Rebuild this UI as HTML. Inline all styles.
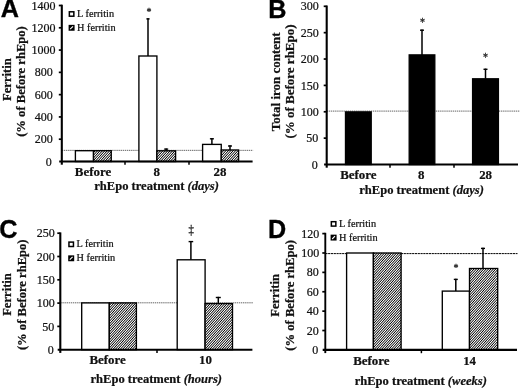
<!DOCTYPE html>
<html><head><meta charset="utf-8"><title>Figure</title>
<style>html,body{margin:0;padding:0;background:#fff;overflow:hidden}svg{display:block;will-change:transform}</style></head>
<body><svg width="520" height="388" viewBox="0 0 520 388">
<defs><linearGradient id="hatch" gradientUnits="userSpaceOnUse" x1="0" y1="0" x2="1.3241" y2="1.2046" spreadMethod="repeat"><stop offset="0" stop-color="#000"/><stop offset="0.45" stop-color="#fff"/><stop offset="0.55" stop-color="#fff"/><stop offset="1" stop-color="#000"/></linearGradient></defs>
<rect width="520" height="388" fill="#fff"/>
<g id="panelA">
<line x1="61.8" y1="150.35" x2="253.1" y2="150.35" stroke="#333" stroke-width="0.75" stroke-dasharray="1.4 0.7"/>
<rect x="75.4" y="150.70" width="18.10" height="10.80" fill="#fff" stroke="#000" stroke-width="1.35"/>
<rect x="93.5" y="150.70" width="17.75" height="10.80" fill="url(#hatch)" stroke="#000" stroke-width="1.35"/>
<rect x="138.9" y="56.00" width="18.00" height="105.50" fill="#fff" stroke="#000" stroke-width="1.35"/>
<line x1="148.0" y1="56.00" x2="148.0" y2="18.20" stroke="#000" stroke-width="1.5"/>
<line x1="146.4" y1="18.90" x2="149.6" y2="18.90" stroke="#000" stroke-width="1.4"/>
<rect x="156.9" y="150.80" width="18.70" height="10.70" fill="url(#hatch)" stroke="#000" stroke-width="1.35"/>
<line x1="166.2" y1="150.80" x2="166.2" y2="148.40" stroke="#000" stroke-width="1.5"/>
<line x1="164.2" y1="149.10" x2="168.2" y2="149.10" stroke="#000" stroke-width="1.4"/>
<rect x="202.6" y="144.40" width="18.65" height="17.10" fill="#fff" stroke="#000" stroke-width="1.35"/>
<line x1="211.9" y1="144.40" x2="211.9" y2="138.10" stroke="#000" stroke-width="1.5"/>
<line x1="209.9" y1="138.80" x2="213.9" y2="138.80" stroke="#000" stroke-width="1.4"/>
<rect x="221.25" y="150.00" width="17.35" height="11.50" fill="url(#hatch)" stroke="#000" stroke-width="1.35"/>
<line x1="230" y1="150.00" x2="230" y2="145.30" stroke="#000" stroke-width="1.5"/>
<line x1="228.0" y1="146.00" x2="232.0" y2="146.00" stroke="#000" stroke-width="1.4"/>
<line x1="61.8" y1="4.70" x2="61.8" y2="164.70" stroke="#000" stroke-width="2.1"/>
<line x1="59.20" y1="161.5" x2="252.6" y2="161.5" stroke="#000" stroke-width="2.1"/>
<text x="51.70" y="165.60" text-anchor="end" font-family='"Liberation Serif", serif' font-size="12" fill="#111" stroke="#111" stroke-width="0.22">0</text>
<line x1="58.8" y1="139.21" x2="61.8" y2="139.21" stroke="#000" stroke-width="1.7"/>
<text x="52.70" y="143.31" text-anchor="end" font-family='"Liberation Serif", serif' font-size="12" fill="#111" stroke="#111" stroke-width="0.22">200</text>
<line x1="58.8" y1="116.93" x2="61.8" y2="116.93" stroke="#000" stroke-width="1.7"/>
<text x="52.70" y="121.03" text-anchor="end" font-family='"Liberation Serif", serif' font-size="12" fill="#111" stroke="#111" stroke-width="0.22">400</text>
<line x1="58.8" y1="94.64" x2="61.8" y2="94.64" stroke="#000" stroke-width="1.7"/>
<text x="52.70" y="98.74" text-anchor="end" font-family='"Liberation Serif", serif' font-size="12" fill="#111" stroke="#111" stroke-width="0.22">600</text>
<line x1="58.8" y1="72.36" x2="61.8" y2="72.36" stroke="#000" stroke-width="1.7"/>
<text x="52.70" y="76.46" text-anchor="end" font-family='"Liberation Serif", serif' font-size="12" fill="#111" stroke="#111" stroke-width="0.22">800</text>
<line x1="58.8" y1="50.07" x2="61.8" y2="50.07" stroke="#000" stroke-width="1.7"/>
<text x="55.60" y="54.17" text-anchor="end" font-family='"Liberation Serif", serif' font-size="12" fill="#111" stroke="#111" stroke-width="0.22">1000</text>
<line x1="58.8" y1="27.79" x2="61.8" y2="27.79" stroke="#000" stroke-width="1.7"/>
<text x="55.60" y="31.89" text-anchor="end" font-family='"Liberation Serif", serif' font-size="12" fill="#111" stroke="#111" stroke-width="0.22">1200</text>
<line x1="58.8" y1="5.50" x2="61.8" y2="5.50" stroke="#000" stroke-width="1.7"/>
<text x="55.60" y="9.60" text-anchor="end" font-family='"Liberation Serif", serif' font-size="12" fill="#111" stroke="#111" stroke-width="0.22">1400</text>
<line x1="125" y1="161.5" x2="125" y2="164.80" stroke="#000" stroke-width="1.5"/>
<line x1="189" y1="161.5" x2="189" y2="164.80" stroke="#000" stroke-width="1.5"/>
<text x="93" y="175.7" text-anchor="middle" font-family='"Liberation Serif", serif' font-weight="bold" font-size="12.9" fill="#111" stroke="#111" stroke-width="0.22">Before</text>
<text x="156.75" y="175.7" text-anchor="middle" font-family='"Liberation Serif", serif' font-weight="bold" font-size="12.9" fill="#111" stroke="#111" stroke-width="0.22">8</text>
<text x="220" y="175.7" text-anchor="middle" font-family='"Liberation Serif", serif' font-weight="bold" font-size="12.9" fill="#111" stroke="#111" stroke-width="0.22">28</text>
<text x="94.3" y="190.3" font-family='"Liberation Serif", serif' font-weight="bold" font-size="12.55" fill="#111" stroke="#111" stroke-width="0.22">rhEpo treatment <tspan font-style="italic">(days)</tspan></text>
<text transform="translate(10.9,79.6) rotate(-90)" text-anchor="middle" font-family='"Liberation Serif", serif' font-weight="bold" font-size="12.6" fill="#111" stroke="#111" stroke-width="0.22">Ferritin</text>
<text transform="translate(25.1,81.5) rotate(-90)" text-anchor="middle" font-family='"Liberation Serif", serif' font-weight="bold" font-size="12.6" fill="#111" stroke="#111" stroke-width="0.22">(% of Before rhEpo)</text>
<text x="0.8" y="17.4" font-family='"Liberation Sans", sans-serif' font-weight="bold" font-size="25.2" fill="#000" stroke="#000" stroke-width="0.35">A</text>
<rect x="69.35" y="11.80" width="4.5" height="4.4" fill="#fff" stroke="#000" stroke-width="1.5"/>
<text x="77.00" y="17" font-family='"Liberation Serif", serif' font-size="10.3" fill="#111" stroke="#111" stroke-width="0.22">L ferritin</text>
<rect x="69.35" y="25.60" width="4.5" height="4.4" fill="#000" stroke="#000" stroke-width="1.5"/>
<line x1="70.20" y1="29.20" x2="73.00" y2="26.40" stroke="#fff" stroke-width="1.1"/>
<text x="77.00" y="30.8" font-family='"Liberation Serif", serif' font-size="10.3" fill="#111" stroke="#111" stroke-width="0.22">H ferritin</text>
<text transform="translate(148.9,15.0) scale(1,1)" text-anchor="middle" font-family='"Liberation Serif", serif' font-size="10" fill="#222" stroke="#222" stroke-width="0.3">*</text>
</g>
<g id="panelB">
<line x1="326.7" y1="111.10" x2="520" y2="111.10" stroke="#333" stroke-width="0.75" stroke-dasharray="1.4 0.7"/>
<rect x="345.5" y="111.90" width="25.70" height="52.60" fill="#000" stroke="#000" stroke-width="1.35"/>
<rect x="409.2" y="54.90" width="25.60" height="109.60" fill="#000" stroke="#000" stroke-width="1.35"/>
<line x1="422.0" y1="54.90" x2="422.0" y2="29.50" stroke="#000" stroke-width="1.5"/>
<line x1="420.0" y1="30.20" x2="424.0" y2="30.20" stroke="#000" stroke-width="1.4"/>
<rect x="472.6" y="78.80" width="25.80" height="85.70" fill="#000" stroke="#000" stroke-width="1.35"/>
<line x1="485.5" y1="78.80" x2="485.5" y2="68.60" stroke="#000" stroke-width="1.5"/>
<line x1="483.5" y1="69.30" x2="487.5" y2="69.30" stroke="#000" stroke-width="1.4"/>
<line x1="326.7" y1="5.50" x2="326.7" y2="167.70" stroke="#000" stroke-width="2.1"/>
<line x1="324.10" y1="164.5" x2="518" y2="164.5" stroke="#000" stroke-width="2.1"/>
<text x="317.70" y="168.60" text-anchor="end" font-family='"Liberation Serif", serif' font-size="12" fill="#111" stroke="#111" stroke-width="0.22">0</text>
<line x1="323.7" y1="138.13" x2="326.7" y2="138.13" stroke="#000" stroke-width="1.7"/>
<text x="318.20" y="142.23" text-anchor="end" font-family='"Liberation Serif", serif' font-size="12" fill="#111" stroke="#111" stroke-width="0.22">50</text>
<line x1="323.7" y1="111.77" x2="326.7" y2="111.77" stroke="#000" stroke-width="1.7"/>
<text x="318.70" y="115.87" text-anchor="end" font-family='"Liberation Serif", serif' font-size="12" fill="#111" stroke="#111" stroke-width="0.22">100</text>
<line x1="323.7" y1="85.40" x2="326.7" y2="85.40" stroke="#000" stroke-width="1.7"/>
<text x="318.70" y="89.50" text-anchor="end" font-family='"Liberation Serif", serif' font-size="12" fill="#111" stroke="#111" stroke-width="0.22">150</text>
<line x1="323.7" y1="59.03" x2="326.7" y2="59.03" stroke="#000" stroke-width="1.7"/>
<text x="318.70" y="63.13" text-anchor="end" font-family='"Liberation Serif", serif' font-size="12" fill="#111" stroke="#111" stroke-width="0.22">200</text>
<line x1="323.7" y1="32.67" x2="326.7" y2="32.67" stroke="#000" stroke-width="1.7"/>
<text x="318.70" y="36.77" text-anchor="end" font-family='"Liberation Serif", serif' font-size="12" fill="#111" stroke="#111" stroke-width="0.22">250</text>
<line x1="323.7" y1="6.30" x2="326.7" y2="6.30" stroke="#000" stroke-width="1.7"/>
<text x="318.70" y="10.40" text-anchor="end" font-family='"Liberation Serif", serif' font-size="12" fill="#111" stroke="#111" stroke-width="0.22">300</text>
<line x1="390" y1="164.5" x2="390" y2="167.80" stroke="#000" stroke-width="1.5"/>
<line x1="454" y1="164.5" x2="454" y2="167.80" stroke="#000" stroke-width="1.5"/>
<text x="358.3" y="178.9" text-anchor="middle" font-family='"Liberation Serif", serif' font-weight="bold" font-size="12.9" fill="#111" stroke="#111" stroke-width="0.22">Before</text>
<text x="421.3" y="178.9" text-anchor="middle" font-family='"Liberation Serif", serif' font-weight="bold" font-size="12.9" fill="#111" stroke="#111" stroke-width="0.22">8</text>
<text x="485.6" y="178.9" text-anchor="middle" font-family='"Liberation Serif", serif' font-weight="bold" font-size="12.9" fill="#111" stroke="#111" stroke-width="0.22">28</text>
<text x="359.3" y="194.0" font-family='"Liberation Serif", serif' font-weight="bold" font-size="12.55" fill="#111" stroke="#111" stroke-width="0.22">rhEpo treatment <tspan font-style="italic">(days)</tspan></text>
<text transform="translate(279.6,81.8) rotate(-90)" text-anchor="middle" font-family='"Liberation Serif", serif' font-weight="bold" font-size="13" fill="#111" stroke="#111" stroke-width="0.22">Total iron content</text>
<text transform="translate(293.9,81.5) rotate(-90)" text-anchor="middle" font-family='"Liberation Serif", serif' font-weight="bold" font-size="13" fill="#111" stroke="#111" stroke-width="0.22">(% of Before rhEpo)</text>
<text x="268.2" y="17.7" font-family='"Liberation Sans", sans-serif' font-weight="bold" font-size="25.2" fill="#000" stroke="#000" stroke-width="0.35">B</text>
<text transform="translate(422.5,26.0) scale(0.8,1)" text-anchor="middle" font-family='"Liberation Serif", serif' font-size="12.5" fill="#222" stroke="#222" stroke-width="0.3">*</text>
<text transform="translate(485.6,61.0) scale(0.8,1)" text-anchor="middle" font-family='"Liberation Serif", serif' font-size="12.5" fill="#222" stroke="#222" stroke-width="0.3">*</text>
</g>
<g id="panelC">
<line x1="60.3" y1="302.80" x2="252.9" y2="302.80" stroke="#333" stroke-width="0.75" stroke-dasharray="1.4 0.7"/>
<rect x="81.7" y="302.90" width="27.60" height="46.80" fill="#fff" stroke="#000" stroke-width="1.35"/>
<rect x="109.3" y="302.90" width="27.10" height="46.80" fill="url(#hatch)" stroke="#000" stroke-width="1.35"/>
<rect x="177.2" y="259.80" width="27.90" height="89.90" fill="#fff" stroke="#000" stroke-width="1.35"/>
<line x1="190.9" y1="259.80" x2="190.9" y2="240.90" stroke="#000" stroke-width="1.5"/>
<line x1="188.6" y1="241.60" x2="193.20000000000002" y2="241.60" stroke="#000" stroke-width="1.4"/>
<rect x="205.1" y="303.60" width="27.40" height="46.10" fill="url(#hatch)" stroke="#000" stroke-width="1.35"/>
<line x1="218.3" y1="303.60" x2="218.3" y2="296.80" stroke="#000" stroke-width="1.5"/>
<line x1="215.8" y1="297.50" x2="220.8" y2="297.50" stroke="#000" stroke-width="1.4"/>
<line x1="60.3" y1="232.40" x2="60.3" y2="352.90" stroke="#000" stroke-width="2.1"/>
<line x1="57.70" y1="349.7" x2="252.4" y2="349.7" stroke="#000" stroke-width="2.1"/>
<text x="53.70" y="353.80" text-anchor="end" font-family='"Liberation Serif", serif' font-size="12" fill="#111" stroke="#111" stroke-width="0.22">0</text>
<line x1="57.3" y1="326.40" x2="60.3" y2="326.40" stroke="#000" stroke-width="1.7"/>
<text x="54.20" y="330.50" text-anchor="end" font-family='"Liberation Serif", serif' font-size="12" fill="#111" stroke="#111" stroke-width="0.22">50</text>
<line x1="57.3" y1="303.10" x2="60.3" y2="303.10" stroke="#000" stroke-width="1.7"/>
<text x="54.70" y="307.20" text-anchor="end" font-family='"Liberation Serif", serif' font-size="12" fill="#111" stroke="#111" stroke-width="0.22">100</text>
<line x1="57.3" y1="279.80" x2="60.3" y2="279.80" stroke="#000" stroke-width="1.7"/>
<text x="54.70" y="283.90" text-anchor="end" font-family='"Liberation Serif", serif' font-size="12" fill="#111" stroke="#111" stroke-width="0.22">150</text>
<line x1="57.3" y1="256.50" x2="60.3" y2="256.50" stroke="#000" stroke-width="1.7"/>
<text x="54.70" y="260.60" text-anchor="end" font-family='"Liberation Serif", serif' font-size="12" fill="#111" stroke="#111" stroke-width="0.22">200</text>
<line x1="57.3" y1="233.20" x2="60.3" y2="233.20" stroke="#000" stroke-width="1.7"/>
<text x="54.70" y="237.30" text-anchor="end" font-family='"Liberation Serif", serif' font-size="12" fill="#111" stroke="#111" stroke-width="0.22">250</text>
<line x1="157" y1="349.7" x2="157" y2="353.00" stroke="#000" stroke-width="1.5"/>
<text x="107.6" y="363.8" text-anchor="middle" font-family='"Liberation Serif", serif' font-weight="bold" font-size="12.9" fill="#111" stroke="#111" stroke-width="0.22">Before</text>
<text x="205.5" y="363.8" text-anchor="middle" font-family='"Liberation Serif", serif' font-weight="bold" font-size="12.9" fill="#111" stroke="#111" stroke-width="0.22">10</text>
<text x="90.5" y="383.1" font-family='"Liberation Serif", serif' font-weight="bold" font-size="12.55" fill="#111" stroke="#111" stroke-width="0.22">rhEpo treatment <tspan font-style="italic">(hours)</tspan></text>
<text transform="translate(10.8,294.5) rotate(-90)" text-anchor="middle" font-family='"Liberation Serif", serif' font-weight="bold" font-size="12.6" fill="#111" stroke="#111" stroke-width="0.22">Ferritin</text>
<text transform="translate(25.8,294.75) rotate(-90)" text-anchor="middle" font-family='"Liberation Serif", serif' font-weight="bold" font-size="12.6" fill="#111" stroke="#111" stroke-width="0.22">(% of Before rhEpo)</text>
<text x="-0.8" y="238.4" font-family='"Liberation Sans", sans-serif' font-weight="bold" font-size="25.2" fill="#000" stroke="#000" stroke-width="0.35">C</text>
<rect x="68.95" y="242.10" width="4.5" height="4.4" fill="#fff" stroke="#000" stroke-width="1.5"/>
<text x="76.60" y="247.3" font-family='"Liberation Serif", serif' font-size="10.3" fill="#111" stroke="#111" stroke-width="0.22">L ferritin</text>
<rect x="68.95" y="256.10" width="4.5" height="4.4" fill="#000" stroke="#000" stroke-width="1.5"/>
<line x1="69.80" y1="259.70" x2="72.60" y2="256.90" stroke="#fff" stroke-width="1.1"/>
<text x="76.60" y="261.3" font-family='"Liberation Serif", serif' font-size="10.3" fill="#111" stroke="#111" stroke-width="0.22">H ferritin</text>
<text transform="translate(191.1,234.4) scale(0.8,1)" text-anchor="middle" font-family='"Liberation Serif", serif' font-size="13.5" fill="#222" stroke="#222" stroke-width="0.3">‡</text>
</g>
<g id="panelD">
<line x1="325.3" y1="253.60" x2="517.5" y2="253.60" stroke="#000" stroke-width="1" stroke-dasharray="2.2 0.6"/>
<rect x="346.6" y="253.00" width="26.80" height="96.90" fill="#fff" stroke="#000" stroke-width="1.35"/>
<rect x="373.4" y="253.00" width="27.70" height="96.90" fill="url(#hatch)" stroke="#000" stroke-width="1.35"/>
<rect x="442.3" y="291.10" width="27.20" height="58.80" fill="#fff" stroke="#000" stroke-width="1.35"/>
<line x1="455.8" y1="291.10" x2="455.8" y2="278.70" stroke="#000" stroke-width="1.5"/>
<line x1="453.8" y1="279.40" x2="457.8" y2="279.40" stroke="#000" stroke-width="1.4"/>
<rect x="469.5" y="268.50" width="28.20" height="81.40" fill="url(#hatch)" stroke="#000" stroke-width="1.35"/>
<line x1="483" y1="268.50" x2="483" y2="247.70" stroke="#000" stroke-width="1.5"/>
<line x1="481.0" y1="248.40" x2="485.0" y2="248.40" stroke="#000" stroke-width="1.4"/>
<line x1="325.3" y1="232.80" x2="325.3" y2="353.10" stroke="#000" stroke-width="1.9"/>
<line x1="322.70" y1="349.9" x2="517" y2="349.9" stroke="#000" stroke-width="2.1"/>
<text x="318.30" y="354.00" text-anchor="end" font-family='"Liberation Serif", serif' font-size="12" fill="#111" stroke="#111" stroke-width="0.22">0</text>
<line x1="322.3" y1="330.52" x2="325.3" y2="330.52" stroke="#000" stroke-width="1.7"/>
<text x="318.80" y="334.62" text-anchor="end" font-family='"Liberation Serif", serif' font-size="12" fill="#111" stroke="#111" stroke-width="0.22">20</text>
<line x1="322.3" y1="311.13" x2="325.3" y2="311.13" stroke="#000" stroke-width="1.7"/>
<text x="318.80" y="315.23" text-anchor="end" font-family='"Liberation Serif", serif' font-size="12" fill="#111" stroke="#111" stroke-width="0.22">40</text>
<line x1="322.3" y1="291.75" x2="325.3" y2="291.75" stroke="#000" stroke-width="1.7"/>
<text x="318.80" y="295.85" text-anchor="end" font-family='"Liberation Serif", serif' font-size="12" fill="#111" stroke="#111" stroke-width="0.22">60</text>
<line x1="322.3" y1="272.37" x2="325.3" y2="272.37" stroke="#000" stroke-width="1.7"/>
<text x="318.80" y="276.47" text-anchor="end" font-family='"Liberation Serif", serif' font-size="12" fill="#111" stroke="#111" stroke-width="0.22">80</text>
<line x1="322.3" y1="252.98" x2="325.3" y2="252.98" stroke="#000" stroke-width="1.7"/>
<text x="319.30" y="257.08" text-anchor="end" font-family='"Liberation Serif", serif' font-size="12" fill="#111" stroke="#111" stroke-width="0.22">100</text>
<line x1="322.3" y1="233.60" x2="325.3" y2="233.60" stroke="#000" stroke-width="1.7"/>
<text x="319.30" y="237.70" text-anchor="end" font-family='"Liberation Serif", serif' font-size="12" fill="#111" stroke="#111" stroke-width="0.22">120</text>
<line x1="421.4" y1="349.9" x2="421.4" y2="353.20" stroke="#000" stroke-width="1.5"/>
<text x="371.4" y="364.9" text-anchor="middle" font-family='"Liberation Serif", serif' font-weight="bold" font-size="12.9" fill="#111" stroke="#111" stroke-width="0.22">Before</text>
<text x="469.6" y="364.9" text-anchor="middle" font-family='"Liberation Serif", serif' font-weight="bold" font-size="12.9" fill="#111" stroke="#111" stroke-width="0.22">14</text>
<text x="354.7" y="385.4" font-family='"Liberation Serif", serif' font-weight="bold" font-size="12.55" fill="#111" stroke="#111" stroke-width="0.22">rhEpo treatment <tspan font-style="italic">(weeks)</tspan></text>
<text transform="translate(279,295.35) rotate(-90)" text-anchor="middle" font-family='"Liberation Serif", serif' font-weight="bold" font-size="12.6" fill="#111" stroke="#111" stroke-width="0.22">Ferritin</text>
<text transform="translate(293.8,295.35) rotate(-90)" text-anchor="middle" font-family='"Liberation Serif", serif' font-weight="bold" font-size="12.6" fill="#111" stroke="#111" stroke-width="0.22">(% of Before rhEpo)</text>
<text x="268.1" y="237.7" font-family='"Liberation Sans", sans-serif' font-weight="bold" font-size="25.2" fill="#000" stroke="#000" stroke-width="0.35">D</text>
<rect x="331.35" y="221.70" width="4.5" height="4.4" fill="#fff" stroke="#000" stroke-width="1.5"/>
<text x="339.00" y="226.9" font-family='"Liberation Serif", serif' font-size="10.3" fill="#111" stroke="#111" stroke-width="0.22">L ferritin</text>
<rect x="331.35" y="235.40" width="4.5" height="4.4" fill="#000" stroke="#000" stroke-width="1.5"/>
<line x1="332.20" y1="239.00" x2="335.00" y2="236.20" stroke="#fff" stroke-width="1.1"/>
<text x="339.00" y="240.6" font-family='"Liberation Serif", serif' font-size="10.3" fill="#111" stroke="#111" stroke-width="0.22">H ferritin</text>
<text transform="translate(456.0,271.3) scale(1,1)" text-anchor="middle" font-family='"Liberation Serif", serif' font-size="10" fill="#222" stroke="#222" stroke-width="0.3">*</text>
</g>
</svg></body></html>
